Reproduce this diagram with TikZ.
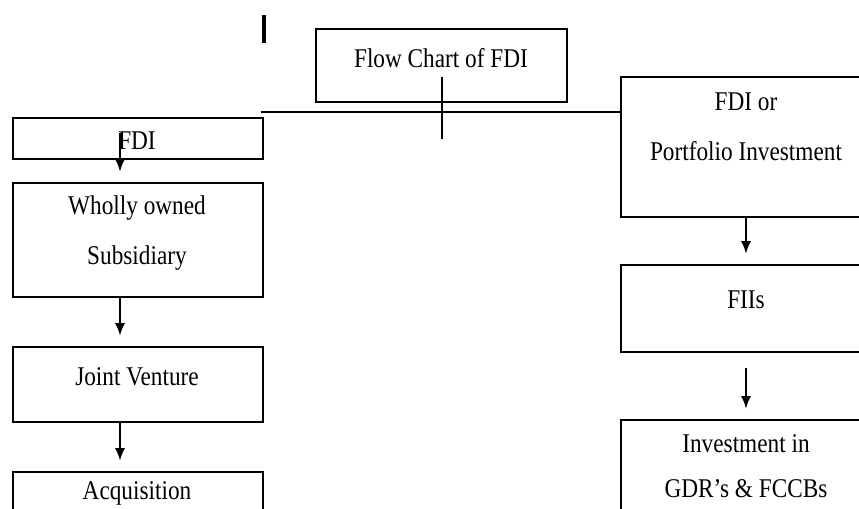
\documentclass[tikz,border=0pt]{standalone}
\usepackage{fontspec}
\setmainfont{Liberation Serif}[FakeStretch=0.86]
\usetikzlibrary{arrows.meta}

\begin{document}
\begin{tikzpicture}[x=0.02cm,y=-0.02cm,
 box/.style={draw,line width=1pt,minimum width=5cm},
 txt/.style={align=center,font=\fontsize{15.4pt}{18.5pt}\selectfont},
 arr/.style={line width=1pt,-{Latex[length=0.25cm,width=0.2cm]},shorten >=0.21cm}]
\useasboundingbox (0,0) rectangle (859,508);
\clip (0,0) rectangle (859,508);
% boxes
\node[box,minimum width=5.02cm,minimum height=1.46cm](title) at (441.5,65.5){};
\node[box,minimum height=0.82cm](fdi) at (138,138.5){};
\node[box,minimum height=2.28cm](wholly) at (138,240){};
\node[box,minimum height=1.5cm](jv) at (138,384.5){};
\node[box,minimum height=2cm](acq) at (138,522){};
\node[box,minimum height=2.8cm](port) at (746,147){};
\node[box,minimum height=1.74cm](fiis) at (746,308.5){};
\node[box,minimum height=2.8cm](inv) at (746,490){};
% texts
\node[txt](titletext) at (441,58){Flow Chart of FDI};
\node[txt](fditext) at (137,141){FDI};
\node[txt](whollytext) at (137,233){Wholly owned\\[9.8pt]Subsidiary};
\node[txt](jvtext) at (137,377){Joint Venture};
\node[txt](acqtext) at (137,493){Acquisition};
\node[txt](porttext) at (746,127){FDI or\\[9.8pt]Portfolio Investment};
\node[txt](fiistext) at (746,300){FIIs};
\node[txt](invtext) at (746,466){Investment in\\[7pt]GDR's \& FCCBs};
% lines
\coordinate(bartop) at (264,15);
\coordinate(barbot) at (264,43);
\draw[line width=1.8pt](bartop)--(barbot);
\coordinate(hleft) at (261,112);
\draw[line width=1pt](hleft)--(hleft -| port.west);
\coordinate(ttop) at (442,77);
\coordinate(tbot) at (442,139);
\draw[line width=1pt](ttop)--(tbot);
% arrows
\coordinate(fdistart) at (120,133);
\draw[arr](fdistart)--(fdistart |- wholly.north);
\foreach \from/\to in {wholly/jv,jv/acq}
 \draw[arr](\from.south -| fdistart)--(\to.north -| fdistart);
\draw[arr](port.south)--(fiis.north);
\draw[arr,shorten <=0.3cm](fiis.south)--(inv.north);
\end{tikzpicture}
\end{document}
